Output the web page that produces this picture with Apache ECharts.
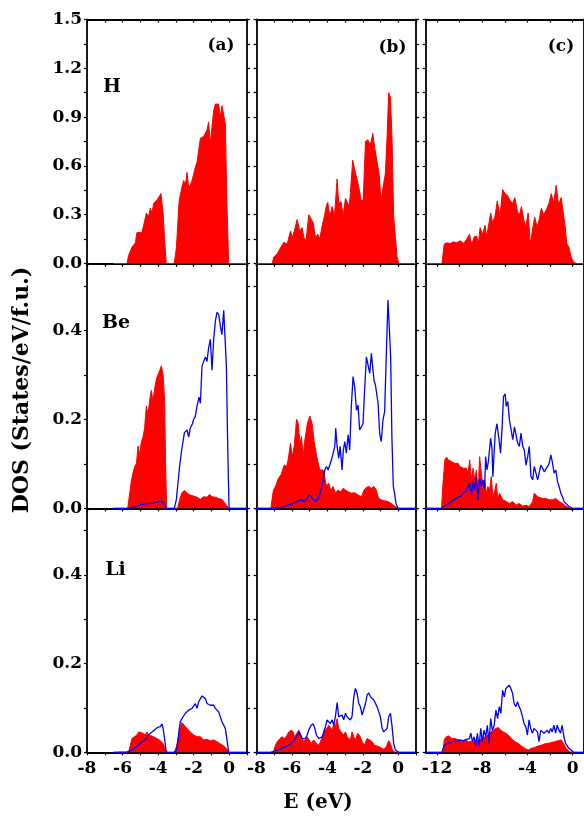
<!DOCTYPE html>
<html><head><meta charset="utf-8">
<script src="https://cdn.jsdelivr.net/npm/echarts@6/dist/echarts.min.js"></script>
<style>html,body{margin:0;padding:0;background:#fff}#c{width:584px;height:818px}</style>
</head><body><div id="c"></div>
<script>
// ---- Data: [E (eV), DOS] ----
const H_a_red = [[-6.5,0],[-5.75,0],[-5.66,0.05],[-5.47,0.1],[-5.28,0.127],[-5.19,0.19],[-4.91,0.19],[-4.78,0.25],[-4.66,0.31],[-4.53,0.29],[-4.44,0.34],[-4.34,0.31],[-4.25,0.37],[-4.06,0.39],[-3.97,0.40],[-3.84,0.43],[-3.72,0.31],[-3.63,0.14],[-3.54,0],[-3.09,0],[-2.97,0.1],[-2.82,0.38],[-2.66,0.47],[-2.56,0.51],[-2.47,0.48],[-2.37,0.56],[-2.28,0.46],[-2.19,0.47],[-2.09,0.51],[-2.0,0.52],[-1.91,0.59],[-1.81,0.625],[-1.72,0.615],[-1.62,0.77],[-1.53,0.76],[-1.44,0.78],[-1.34,0.79],[-1.25,0.82],[-1.16,0.87],[-1.06,0.74],[-0.97,0.84],[-0.875,0.94],[-0.78,0.98],[-0.69,0.99],[-0.59,0.98],[-0.5,0.9],[-0.41,0.97],[-0.31,0.97],[-0.22,0.86],[-0.125,0.35],[-0.03,0],[1,0]];
const H_b_red = [[-8,0],[-7.12,0],[-7.02,0.04],[-6.83,0.06],[-6.68,0.09],[-6.46,0.13],[-6.27,0.12],[-6.08,0.2],[-5.99,0.16],[-5.86,0.2],[-5.71,0.27],[-5.56,0.2],[-5.42,0.22],[-5.33,0.16],[-5.20,0.145],[-5.05,0.3],[-4.95,0.31],[-4.80,0.25],[-4.67,0.16],[-4.54,0.18],[-4.43,0.15],[-4.30,0.23],[-4.17,0.29],[-4.05,0.36],[-3.98,0.375],[-3.86,0.29],[-3.73,0.35],[-3.60,0.29],[-3.45,0.52],[-3.36,0.37],[-3.23,0.38],[-3.11,0.29],[-2.98,0.4],[-2.89,0.41],[-2.76,0.35],[-2.57,0.635],[-2.42,0.56],[-2.29,0.5],[-2.19,0.45],[-2.10,0.385],[-1.98,0.39],[-1.85,0.75],[-1.72,0.76],[-1.57,0.73],[-1.44,0.8],[-1.31,0.7],[-1.20,0.71],[-1.08,0.55],[-0.97,0.38],[-0.86,0.47],[-0.73,0.55],[-0.63,0.78],[-0.54,1.05],[-0.44,1.02],[-0.35,0.76],[-0.26,0.29],[-0.16,0.16],[-0.07,0.04],[0.03,0],[1,0]];
const H_c_red = [[-13,0],[-11.56,0],[-11.36,0.12],[-11.12,0.127],[-10.83,0.123],[-10.54,0.133],[-10.24,0.127],[-9.95,0.14],[-9.66,0.123],[-9.36,0.15],[-9.13,0.18],[-8.92,0.113],[-8.72,0.164],[-8.49,0.168],[-8.34,0.123],[-8.19,0.22],[-7.96,0.18],[-7.75,0.235],[-7.61,0.164],[-7.46,0.225],[-7.25,0.31],[-7.08,0.25],[-6.87,0.29],[-6.67,0.385],[-6.43,0.29],[-6.20,0.455],[-5.99,0.43],[-5.79,0.42],[-5.56,0.39],[-5.32,0.37],[-5.12,0.405],[-4.91,0.33],[-4.74,0.29],[-4.53,0.35],[-4.33,0.27],[-4.15,0.225],[-3.94,0.31],[-3.74,0.12],[-3.56,0.205],[-3.36,0.285],[-3.15,0.225],[-2.98,0.266],[-2.77,0.34],[-2.57,0.3],[-2.33,0.33],[-2.10,0.37],[-1.89,0.43],[-1.69,0.37],[-1.46,0.48],[-1.25,0.36],[-1.02,0.405],[-0.87,0.33],[-0.67,0.23],[-0.52,0.12],[-0.34,0.1],[-0.14,0.04],[0.06,0.01],[0.30,0],[1,0]];

const Be_a_red = [[-6.5,0],[-5.71,0],[-5.60,0.034],[-5.51,0.06],[-5.41,0.08],[-5.32,0.094],[-5.22,0.1],[-5.13,0.14],[-5.04,0.12],[-4.94,0.15],[-4.85,0.16],[-4.76,0.18],[-4.66,0.23],[-4.57,0.21],[-4.47,0.245],[-4.38,0.265],[-4.29,0.24],[-4.19,0.27],[-4.10,0.29],[-4.01,0.29],[-3.91,0.31],[-3.82,0.32],[-3.72,0.30],[-3.63,0.24],[-3.58,0.1],[-3.52,0],[-2.90,0],[-2.79,0.019],[-2.66,0.035],[-2.52,0.04],[-2.37,0.034],[-2.22,0.03],[-2.04,0.028],[-1.81,0.025],[-1.62,0.02],[-1.44,0.026],[-1.25,0.025],[-1.10,0.031],[-0.97,0.026],[-0.78,0.025],[-0.59,0.022],[-0.41,0.02],[-0.31,0.019],[-0.16,0.007],[-0.03,0],[1,0]];
const Be_a_blue = [[-6.5,0],[-5.66,0],[-5.19,0.004],[-5.0,0.008],[-4.72,0.01],[-4.34,0.011],[-4.06,0.014],[-3.87,0.017],[-3.76,0.02],[-3.65,0.011],[-3.54,0],[-3.09,0],[-2.97,0.02],[-2.90,0.05],[-2.79,0.094],[-2.69,0.127],[-2.62,0.13],[-2.52,0.17],[-2.45,0.166],[-2.37,0.176],[-2.28,0.16],[-2.19,0.18],[-2.07,0.19],[-2.0,0.2],[-1.91,0.206],[-1.81,0.23],[-1.70,0.25],[-1.62,0.236],[-1.53,0.32],[-1.44,0.32],[-1.34,0.34],[-1.25,0.33],[-1.16,0.36],[-1.06,0.38],[-0.97,0.31],[-0.875,0.38],[-0.78,0.42],[-0.69,0.44],[-0.59,0.435],[-0.5,0.41],[-0.41,0.39],[-0.31,0.445],[-0.26,0.445],[-0.16,0.32],[-0.09,0.15],[-0.01,0],[1,0]];
const Be_b_red = [[-8,0],[-7.19,0],[-7.05,0.04],[-6.92,0.05],[-6.77,0.067],[-6.62,0.075],[-6.44,0.097],[-6.30,0.094],[-6.21,0.11],[-6.08,0.146],[-5.98,0.116],[-5.87,0.14],[-5.74,0.2],[-5.65,0.192],[-5.55,0.146],[-5.46,0.161],[-5.37,0.116],[-5.27,0.154],[-5.12,0.192],[-4.99,0.207],[-4.86,0.19],[-4.75,0.15],[-4.62,0.12],[-4.52,0.116],[-4.43,0.086],[-4.33,0.082],[-4.24,0.086],[-4.15,0.086],[-4.05,0.05],[-3.92,0.056],[-3.81,0.04],[-3.68,0.049],[-3.55,0.034],[-3.40,0.041],[-3.25,0.037],[-3.11,0.045],[-2.98,0.041],[-2.83,0.037],[-2.65,0.034],[-2.46,0.035],[-2.27,0.03],[-2.08,0.026],[-1.93,0.041],[-1.80,0.047],[-1.67,0.049],[-1.52,0.045],[-1.37,0.049],[-1.24,0.041],[-1.11,0.022],[-0.96,0.019],[-0.77,0.017],[-0.58,0.015],[-0.39,0.011],[-0.21,0.005],[-0.06,0],[1,0]];
const Be_b_blue = [[-8,0],[-7.15,0],[-6.58,0.002],[-6.21,0.007],[-5.93,0.011],[-5.74,0.015],[-5.65,0.013],[-5.46,0.019],[-5.31,0.015],[-5.18,0.019],[-5.05,0.03],[-4.93,0.028],[-4.80,0.019],[-4.67,0.015],[-4.52,0.022],[-4.41,0.034],[-4.33,0.045],[-4.24,0.064],[-4.15,0.086],[-4.05,0.094],[-3.96,0.086],[-3.86,0.09],[-3.77,0.109],[-3.68,0.105],[-3.58,0.139],[-3.53,0.18],[-3.45,0.139],[-3.36,0.112],[-3.28,0.139],[-3.17,0.086],[-3.10,0.131],[-3.02,0.15],[-2.93,0.124],[-2.83,0.165],[-2.74,0.131],[-2.65,0.228],[-2.55,0.296],[-2.46,0.273],[-2.36,0.22],[-2.27,0.232],[-2.18,0.176],[-2.08,0.172],[-1.99,0.19],[-1.89,0.273],[-1.80,0.34],[-1.71,0.337],[-1.61,0.303],[-1.52,0.348],[-1.46,0.352],[-1.37,0.288],[-1.29,0.277],[-1.22,0.277],[-1.14,0.236],[-1.05,0.168],[-0.96,0.15],[-0.86,0.2],[-0.77,0.217],[-0.68,0.34],[-0.58,0.468],[-0.51,0.468],[-0.43,0.34],[-0.36,0.16],[-0.28,0.049],[-0.21,0.034],[-0.13,0.011],[-0.02,0],[1,0]];
const Be_c_red = [[-13,0],[-11.6,0],[-11.45,0.064],[-11.30,0.109],[-11.16,0.115],[-11.01,0.109],[-10.86,0.112],[-10.72,0.105],[-10.57,0.107],[-10.43,0.101],[-10.28,0.097],[-10.13,0.101],[-9.99,0.094],[-9.84,0.097],[-9.69,0.09],[-9.55,0.094],[-9.40,0.09],[-9.25,0.079],[-9.11,0.109],[-8.96,0.064],[-8.81,0.09],[-8.67,0.064],[-8.52,0.086],[-8.37,0.034],[-8.23,0.116],[-8.08,0.079],[-7.93,0.049],[-7.79,0.064],[-7.64,0.034],[-7.50,0.049],[-7.35,0.041],[-7.20,0.071],[-7.06,0.026],[-6.91,0.037],[-6.76,0.056],[-6.62,0.022],[-6.47,0.034],[-6.18,0.019],[-5.88,0.015],[-5.59,0.011],[-5.30,0.015],[-5.01,0.007],[-4.72,0.011],[-4.42,0.005],[-4.13,0.007],[-3.84,0.004],[-3.54,0.015],[-3.40,0.034],[-3.25,0.035],[-3.10,0.026],[-2.96,0.03],[-2.66,0.022],[-2.37,0.022],[-2.08,0.019],[-1.78,0.019],[-1.49,0.022],[-1.20,0.015],[-0.90,0.011],[-0.61,0.005],[-0.32,0.001],[-0.03,0],[1,0]];
const Be_c_blue = [[-13,0],[-11.6,0],[-11.30,0.005],[-11.01,0.01],[-10.72,0.015],[-10.43,0.02],[-10.13,0.025],[-9.84,0.028],[-9.69,0.034],[-9.55,0.03],[-9.40,0.041],[-9.25,0.037],[-9.11,0.056],[-8.96,0.03],[-8.81,0.06],[-8.67,0.041],[-8.52,0.071],[-8.37,0.019],[-8.23,0.067],[-8.08,0.049],[-7.93,0.064],[-7.79,0.045],[-7.70,0.116],[-7.58,0.086],[-7.44,0.109],[-7.26,0.157],[-7.14,0.135],[-7.06,0.071],[-6.97,0.116],[-6.85,0.169],[-6.70,0.19],[-6.53,0.157],[-6.38,0.124],[-6.24,0.183],[-6.12,0.251],[-5.97,0.257],[-5.88,0.229],[-5.74,0.24],[-5.59,0.198],[-5.45,0.195],[-5.30,0.154],[-5.15,0.183],[-5.01,0.165],[-4.86,0.146],[-4.72,0.139],[-4.57,0.169],[-4.42,0.139],[-4.28,0.131],[-4.13,0.097],[-3.98,0.116],[-3.84,0.139],[-3.69,0.071],[-3.54,0.064],[-3.40,0.094],[-3.25,0.097],[-3.10,0.064],[-2.96,0.06],[-2.81,0.097],[-2.66,0.09],[-2.52,0.082],[-2.37,0.086],[-2.22,0.094],[-2.08,0.101],[-1.93,0.12],[-1.78,0.101],[-1.64,0.079],[-1.49,0.086],[-1.34,0.06],[-1.20,0.049],[-1.05,0.034],[-0.90,0.026],[-0.76,0.015],[-0.61,0.011],[-0.32,0.004],[-0.03,0],[1,0]];

const Li_a_red = [[-6.5,0],[-5.66,0],[-5.56,0.016],[-5.47,0.031],[-5.37,0.035],[-5.19,0.039],[-5.09,0.046],[-5.00,0.042],[-4.91,0.044],[-4.81,0.042],[-4.72,0.039],[-4.63,0.046],[-4.53,0.039],[-4.44,0.037],[-4.25,0.035],[-4.06,0.031],[-3.87,0.026],[-3.72,0.02],[-3.59,0.005],[-3.50,0],[-3.09,0],[-2.97,0.013],[-2.84,0.039],[-2.75,0.058],[-2.66,0.067],[-2.56,0.065],[-2.47,0.058],[-2.37,0.054],[-2.19,0.046],[-2.00,0.039],[-1.81,0.035],[-1.62,0.035],[-1.44,0.028],[-1.25,0.029],[-1.06,0.026],[-0.875,0.028],[-0.69,0.024],[-0.50,0.019],[-0.31,0.014],[-0.125,0.007],[-0.03,0],[1,0]];
const Li_a_blue = [[-6.5,0],[-6.41,0],[-5.75,0.001],[-5.47,0.005],[-5.19,0.013],[-5.00,0.02],[-4.81,0.026],[-4.66,0.031],[-4.53,0.039],[-4.34,0.046],[-4.16,0.052],[-4.03,0.056],[-3.87,0.058],[-3.78,0.064],[-3.72,0.054],[-3.65,0.035],[-3.56,0.005],[-3.50,0],[-3.09,0],[-2.97,0.005],[-2.90,0.02],[-2.82,0.05],[-2.75,0.069],[-2.66,0.076],[-2.56,0.073],[-2.47,0.088],[-2.37,0.084],[-2.28,0.095],[-2.19,0.091],[-2.09,0.099],[-2.00,0.103],[-1.91,0.11],[-1.81,0.099],[-1.72,0.114],[-1.62,0.121],[-1.53,0.127],[-1.44,0.124],[-1.34,0.121],[-1.25,0.11],[-1.16,0.114],[-1.06,0.106],[-0.97,0.103],[-0.875,0.106],[-0.78,0.099],[-0.69,0.097],[-0.59,0.091],[-0.50,0.08],[-0.41,0.069],[-0.31,0.065],[-0.22,0.054],[-0.125,0.028],[-0.03,0],[1,0]];
const Li_b_red = [[-8,0],[-7.06,0],[-6.93,0.016],[-6.83,0.024],[-6.68,0.031],[-6.55,0.035],[-6.42,0.031],[-6.27,0.039],[-6.18,0.046],[-6.05,0.05],[-5.93,0.046],[-5.86,0.035],[-5.74,0.042],[-5.61,0.05],[-5.52,0.042],[-5.42,0.031],[-5.33,0.024],[-5.24,0.028],[-5.14,0.035],[-5.05,0.031],[-4.92,0.02],[-4.77,0.028],[-4.62,0.02],[-4.48,0.016],[-4.39,0.024],[-4.30,0.028],[-4.17,0.05],[-4.02,0.054],[-3.92,0.061],[-3.83,0.058],[-3.73,0.05],[-3.64,0.065],[-3.55,0.058],[-3.45,0.076],[-3.36,0.054],[-3.23,0.046],[-3.08,0.039],[-2.98,0.046],[-2.89,0.035],[-2.79,0.035],[-2.70,0.028],[-2.61,0.046],[-2.51,0.035],[-2.42,0.028],[-2.29,0.043],[-2.14,0.035],[-2.04,0.024],[-1.91,0.016],[-1.76,0.031],[-1.61,0.028],[-1.48,0.024],[-1.35,0.016],[-1.20,0.014],[-1.01,0.011],[-0.82,0.007],[-0.67,0.013],[-0.54,0.026],[-0.44,0.02],[-0.35,0.007],[-0.22,0.001],[-0.07,0],[1,0]];
const Li_b_blue = [[-8,0],[-7.21,0],[-6.83,0.005],[-6.46,0.011],[-6.27,0.014],[-6.05,0.02],[-5.89,0.026],[-5.74,0.035],[-5.61,0.046],[-5.52,0.039],[-5.42,0.031],[-5.33,0.028],[-5.24,0.031],[-5.14,0.039],[-5.05,0.05],[-4.92,0.061],[-4.80,0.064],[-4.71,0.054],[-4.62,0.039],[-4.48,0.031],[-4.39,0.028],[-4.30,0.035],[-4.20,0.046],[-4.11,0.058],[-4.02,0.073],[-3.92,0.076],[-3.83,0.065],[-3.73,0.073],[-3.64,0.061],[-3.55,0.08],[-3.45,0.112],[-3.36,0.08],[-3.26,0.076],[-3.17,0.084],[-3.08,0.073],[-2.98,0.088],[-2.89,0.08],[-2.79,0.084],[-2.70,0.073],[-2.61,0.08],[-2.51,0.125],[-2.42,0.144],[-2.32,0.133],[-2.23,0.11],[-2.14,0.103],[-2.04,0.084],[-1.95,0.08],[-1.85,0.11],[-1.76,0.129],[-1.67,0.134],[-1.57,0.125],[-1.48,0.125],[-1.38,0.118],[-1.29,0.114],[-1.20,0.103],[-1.10,0.103],[-1.01,0.08],[-0.91,0.054],[-0.82,0.046],[-0.73,0.05],[-0.63,0.054],[-0.54,0.08],[-0.44,0.088],[-0.35,0.058],[-0.26,0.02],[-0.16,0.005],[0.03,0],[1,0]];
const Li_c_red = [[-13,0],[-11.47,0],[-11.36,0.028],[-11.18,0.035],[-10.97,0.037],[-10.68,0.031],[-10.39,0.031],[-10.10,0.028],[-9.80,0.026],[-9.51,0.028],[-9.22,0.024],[-8.92,0.024],[-8.63,0.028],[-8.34,0.026],[-8.05,0.031],[-7.75,0.035],[-7.46,0.039],[-7.25,0.046],[-7.02,0.05],[-6.79,0.054],[-6.58,0.056],[-6.38,0.05],[-6.14,0.046],[-5.91,0.043],[-5.70,0.039],[-5.41,0.031],[-5.12,0.024],[-4.82,0.02],[-4.53,0.014],[-4.24,0.009],[-3.94,0.005],[-3.65,0.009],[-3.36,0.011],[-3.07,0.014],[-2.77,0.016],[-2.48,0.019],[-2.19,0.02],[-1.89,0.022],[-1.60,0.024],[-1.31,0.026],[-1.02,0.028],[-0.81,0.02],[-0.58,0.009],[-0.28,0.001],[0.01,0],[1,0]];
const Li_c_blue = [[-13,0],[-11.56,0],[-11.36,0.016],[-11.12,0.02],[-10.83,0.022],[-10.54,0.024],[-10.24,0.026],[-9.95,0.028],[-9.66,0.026],[-9.36,0.029],[-9.13,0.031],[-9.01,0.043],[-8.87,0.024],[-8.72,0.035],[-8.57,0.016],[-8.43,0.043],[-8.28,0.013],[-8.13,0.054],[-7.99,0.024],[-7.84,0.05],[-7.69,0.035],[-7.55,0.061],[-7.40,0.02],[-7.25,0.076],[-7.11,0.05],[-6.96,0.058],[-6.79,0.095],[-6.64,0.076],[-6.49,0.103],[-6.35,0.088],[-6.20,0.14],[-6.05,0.125],[-5.91,0.144],[-5.76,0.14],[-5.61,0.151],[-5.47,0.144],[-5.32,0.133],[-5.18,0.11],[-5.03,0.103],[-4.88,0.114],[-4.74,0.103],[-4.59,0.095],[-4.44,0.08],[-4.30,0.065],[-4.15,0.058],[-4.00,0.039],[-3.86,0.073],[-3.71,0.054],[-3.56,0.043],[-3.42,0.054],[-3.27,0.05],[-3.12,0.046],[-2.98,0.024],[-2.83,0.05],[-2.69,0.046],[-2.54,0.043],[-2.39,0.046],[-2.25,0.05],[-2.10,0.043],[-1.95,0.054],[-1.81,0.046],[-1.66,0.061],[-1.51,0.043],[-1.37,0.061],[-1.22,0.05],[-1.07,0.043],[-0.93,0.061],[-0.78,0.035],[-0.63,0.02],[-0.49,0.024],[-0.34,0.009],[-0.14,0.005],[0.07,0],[1,0]];

// Tick / label values
const xTicksAB = [-8,-7,-6,-5,-4,-3,-2,-1,0,1];
const xLabelsAB = [-8,-6,-4,-2,0];
const xTicksC = [-12,-10,-8,-6,-4,-2,0];
const xLabelsC = [-12,-8,-4,0];
const yTicksTop = [0,0.15,0.3,0.45,0.6,0.75,0.9,1.05,1.2,1.35,1.5];
const yLabelsTop = [0,0.3,0.6,0.9,1.2,1.5];
const yTicksLow = [0,0.1,0.2,0.3,0.4,0.5];
const yLabelsLow = [0,0.2,0.4];
const rowNames = ['H','Be','Li'];
const colNames = ['(a)','(b)','(c)'];

const panelData = [
  [[H_a_red,null],[H_b_red,null],[H_c_red,null]],
  [[Be_a_red,Be_a_blue],[Be_b_red,Be_b_blue],[Be_c_red,Be_c_blue]],
  [[Li_a_red,Li_a_blue],[Li_b_red,Li_b_blue],[Li_c_red,Li_c_blue]]
];

// ---- Layout ----
const cols = [
  {left:87, width:160, min:-8, max:1, ticks:xTicksAB, labels:xLabelsAB},
  {left:256.5, width:159.5, min:-8, max:1, ticks:xTicksAB, labels:xLabelsAB},
  {left:425.7, width:159.5, min:-13, max:1, ticks:xTicksC, labels:xLabelsC}
];
const rows = [
  {top:19.5, height:244, max:1.5, ticks:yTicksTop, labels:yLabelsTop},
  {top:263.5, height:244.8, max:0.55, ticks:yTicksLow, labels:yLabelsLow},
  {top:508.3, height:244, max:0.55, ticks:yTicksLow, labels:yLabelsLow}
];
const FONT = 'DejaVu Serif';
const axLine = {show:true, onZero:false, lineStyle:{color:'#000', width:1.8}};
const grids=[], xAxes=[], yAxes=[], series=[], graphics=[];
let gi=0;
for (let r=0;r<3;r++){
  for (let c=0;c<3;c++){
    const C=cols[c], R=rows[r];
    grids.push({left:C.left, top:R.top, width:C.width, height:R.height, containLabel:false});
    const showX = (r===2), showY=(c===0);
    xAxes.push({type:'value', gridIndex:gi, position:'bottom', min:C.min, max:C.max,
      axisLine:axLine, splitLine:{show:false},
      axisTick:{show:true, inside:false, length:3, lineStyle:{color:'#000',width:1.2}, customValues:C.ticks},
      axisLabel:{show:showX, customValues:C.labels, margin:8, color:'#000', fontFamily:FONT, fontWeight:'bold', fontSize:17,
        formatter:v=>String(v)}});
    xAxes.push({type:'value', gridIndex:gi, position:'top', min:C.min, max:C.max,
      axisLine:axLine, splitLine:{show:false},
      axisTick:{show:true, inside:true, length:3, lineStyle:{color:'#000',width:1.2}, customValues:C.ticks},
      axisLabel:{show:false}});
    yAxes.push({type:'value', gridIndex:gi, position:'left', min:0, max:R.max,
      axisLine:axLine, splitLine:{show:false},
      axisTick:{show:true, inside:false, length:3, lineStyle:{color:'#000',width:1.2}, customValues:R.ticks},
      axisLabel:{show:showY, customValues:R.labels, margin:5, color:'#000', fontFamily:FONT, fontWeight:'bold', fontSize:17,
        formatter:v=>v.toFixed(1)}});
    yAxes.push({type:'value', gridIndex:gi, position:'right', min:0, max:R.max,
      axisLine:axLine, splitLine:{show:false},
      axisTick:{show:true, inside:false, length:3, lineStyle:{color:'#000',width:1.2}, customValues:R.ticks},
      axisLabel:{show:false}});
    const [red, blue] = panelData[r][c];
    series.push({type:'line', xAxisIndex:2*gi, yAxisIndex:2*gi, data:red, symbol:'none', z:2,
      lineStyle:{color:'#ff0000', width:1}, areaStyle:{color:'#ff0000', opacity:1}, silent:true});
    if (blue) series.push({type:'line', xAxisIndex:2*gi, yAxisIndex:2*gi, data:blue, symbol:'none', z:3,
      lineStyle:{color:'#0000ff', width:1.3}, silent:true});
    gi++;
  }
}
const textStyle = (t,size)=>({text:t, fill:'#000', font:`bold ${size}px "${FONT}"`, textAlign:'center', textVerticalAlign:'middle'});
graphics.push({type:'text', x:221, y:46, style:textStyle(colNames[0],17)});
graphics.push({type:'text', x:392.5, y:47.5, style:textStyle(colNames[1],17)});
graphics.push({type:'text', x:561, y:47, style:textStyle(colNames[2],17)});
graphics.push({type:'text', x:112, y:87, style:textStyle(rowNames[0],19)});
graphics.push({type:'text', x:116, y:323, style:textStyle(rowNames[1],19)});
graphics.push({type:'text', x:115.5, y:570, style:textStyle(rowNames[2],19)});
graphics.push({type:'text', x:22, y:390, rotation:Math.PI/2, style:textStyle('DOS (States/eV/f.u.)',22)});
graphics.push({type:'text', x:318, y:803, style:textStyle('E (eV)',20)});

const chart = echarts.init(document.getElementById('c'), null, {renderer:'canvas'});
chart.setOption({animation:false, backgroundColor:'#fff', grid:grids, xAxis:xAxes, yAxis:yAxes, series:series, graphic:graphics});
</script></body></html>
